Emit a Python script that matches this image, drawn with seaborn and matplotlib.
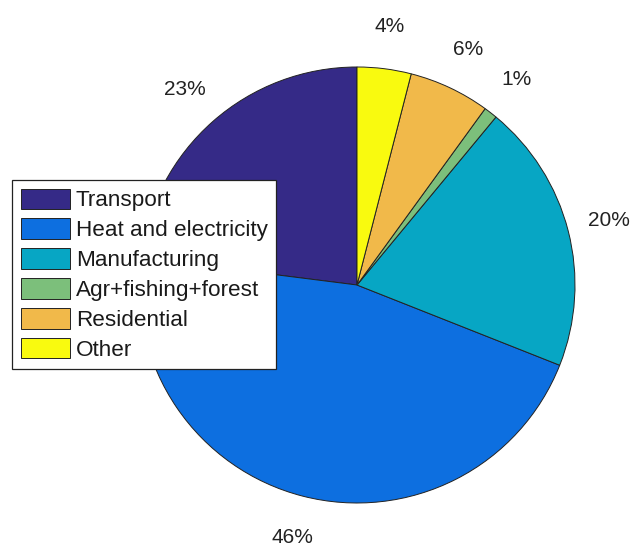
import matplotlib
matplotlib.use("Agg")
import matplotlib.pyplot as plt
import seaborn as sns

# Emission shares by sector (percent)
sectors = ["Transport", "Heat and electricity", "Manufacturing",
           "Agr+fishing+forest", "Residential", "Other"]
shares = [23, 46, 20, 1, 6, 4]
sector_colors = ["#352A87", "#0D6FE0", "#07A6C4", "#7CBF7B", "#F1B94A", "#F9FA0F"]

sns.set_style("white")
plt.rcParams["font.family"] = ["Liberation Sans", "DejaVu Sans"]

fig = plt.figure(figsize=(6.34, 5.5), dpi=100)
ax = fig.add_axes([0, 0, 1, 1])

palette = sns.color_palette(sector_colors)
wedges, texts, autotexts = ax.pie(
    shares,
    colors=palette,
    startangle=90,
    counterclock=True,
    radius=1.0,
    autopct="%.0f%%",
    pctdistance=1.195,
    wedgeprops=dict(edgecolor="#222222", linewidth=0.7),
    textprops=dict(fontsize=15, color="#222222"),
)

ax.set_xlim(-1.6376, 1.2706)
ax.set_ylim(-1.2156, 1.3073)
ax.set_aspect("auto")
ax.axis("off")

leg = ax.legend(
    wedges, sectors,
    loc="upper left",
    bbox_to_anchor=(12 / 634, 1 - 180 / 550),
    bbox_transform=fig.transFigure,
    borderaxespad=0,
    fontsize=16.2,
    frameon=True,
    fancybox=False,
    framealpha=1,
    edgecolor="#222222",
    handlelength=2.18,
    handleheight=1.02,
    handletextpad=0.27,
    labelspacing=0.31,
    borderpad=0.38,
)
leg.get_frame().set_linewidth(0.9)
for t in leg.get_texts():
    t.set_color("#1a1a1a")

fig.savefig("out.png", dpi=100)
